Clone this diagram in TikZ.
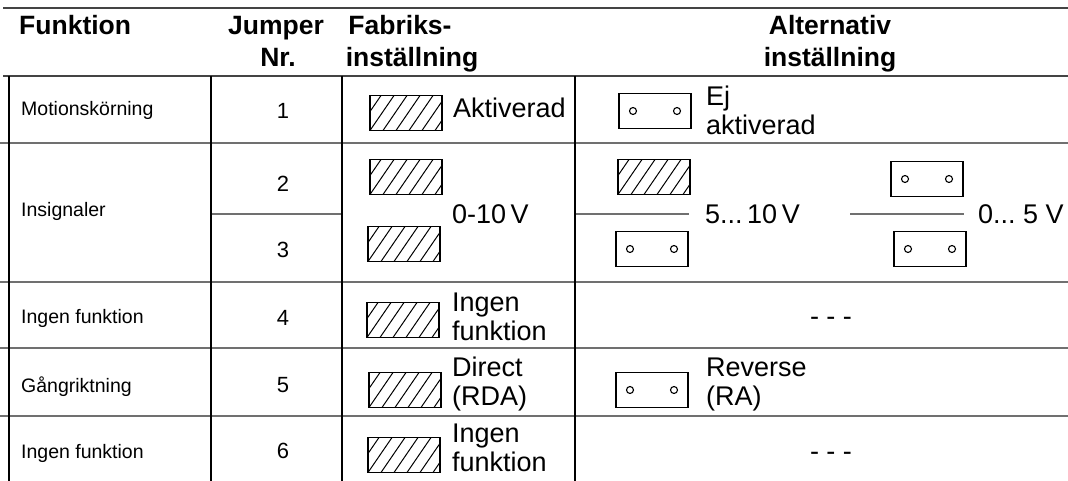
\documentclass[tikz,border=0pt]{standalone}
\usepackage{fontspec}
\setmainfont{Liberation Sans}
\definecolor{rulegray}{HTML}{707070}
\definecolor{headgray}{HTML}{444444}
\tikzset{
  colrule/.style={line width=2.6pt, black},
  rowrule/.style={line width=1.3pt, rulegray},
  headrule/.style={line width=2pt, headgray},
  head/.style={font=\fontsize{26.5}{32}\selectfont\bfseries, inner sep=0pt, anchor=base},
  func/.style={font=\fontsize{19.5}{22}\selectfont, inner sep=0pt, anchor=base west},
  num/.style={font=\fontsize{22}{24}\selectfont, inner sep=0pt, anchor=base},
  setting/.style={font=\fontsize{27}{29}\selectfont, inner sep=0pt, anchor=base west, align=left},
  jumper/.style={draw, line width=1.4pt, minimum width=72pt, minimum height=35pt, inner sep=0pt},
  closedjmp/.style={jumper, path picture={
      \foreach \k in {-1,...,5}
        \draw[line width=1pt] ([xshift=\k*13pt]path picture bounding box.south west) -- ++(24pt,35pt);}},
  openjmp/.style={jumper, path picture={
      \draw[line width=1.1pt] ([xshift=-22pt]path picture bounding box.center) circle (3.5pt)
                              ([xshift=22pt]path picture bounding box.center) circle (3.5pt);}},
}
\begin{document}
\begin{tikzpicture}[x=1pt, y=-1pt]
\useasboundingbox (0,0) rectangle (1068,481);

% header rules
\draw[headrule] (3,8) -- (1068,8);
\draw[headrule] (3,76) -- (1068,76);

% header texts
\node[head, anchor=base west] (hFunk) at (19,35) {Funktion};
\node[head] (hJump) at (276,35) {Jumper};
\node[head] (hNr) at (278,67) {Nr.};
\node[head] (hFab) at (400,35) {Fabriks-};
\node[head] (hFabI) at (412,67) {inställning};
\node[head] (hAlt) at (830,35) {Alternativ};
\node[head] (hAltI) at (830,67) {inställning};

% row rules
\foreach \y in {143,282,348,416}
  \draw[rowrule] (0,\y) -- (1068,\y);
\draw[rowrule] (211,214) -- (342,214);
\draw[rowrule] (576,214) -- (689,214);
\draw[rowrule] (850,214) -- (964,214);

% column rules
\foreach \x in {9,211,342,575}
  \draw[colrule] (\x,76) -- (\x,481);

% function column
\node[func] (f1) at (21,116) {Motionskörning};
\node[func] (f2) at (21,217) {Insignaler};
\node[func] (f4) at (21,323) {Ingen funktion};
\node[func] (f5) at (21,392) {Gångriktning};
\node[func] (f6) at (21,458) {Ingen funktion};

% jumper numbers
\node[num] (n1) at (283,119) {1};
\node[num] (n2) at (283,192) {2};
\node[num] (n3) at (283,258) {3};
\node[num] (n4) at (283,325) {4};
\node[num] (n5) at (283,392) {5};
\node[num] (n6) at (283,458) {6};

% factory settings (multi-line nodes sit on the baseline of their last line)
\node[closedjmp] (d1) at (406,113) {};
\node[setting] (t1) at (453,118) {Aktiverad};
\node[closedjmp] (d2) at (406,177) {};
\node[closedjmp] (d3) at (404,244) {};
\node[setting] (t23) at (452,223) {0-10\,V};
\node[closedjmp] (d4) at (403,320) {};
\node[setting] (t4) at (452,340) {Ingen\\funktion};
\node[closedjmp] (d5) at (405,390) {};
\node[setting] (t5) at (452,405) {Direct\\(RDA)};
\node[closedjmp] (d6) at (404,455) {};
\node[setting] (t6) at (452,471) {Ingen\\funktion};

% alternative settings
\node[openjmp] (a1) at (655,111) {};
\node[setting] (u1) at (706,135) {Ej\\aktiverad};
\node[closedjmp] (a2) at (654,177) {};
\node[openjmp] (a3) at (652,249) {};
\node[setting] (u23) at (705,223) {5...\,10\,V};
\node[openjmp] (b2) at (927,179) {};
\node[openjmp] (b3) at (930,249) {};
\node[setting] (v23) at (978,223) {0...\ 5\ V};
\node[setting, anchor=base] (u4) at (831,325) {- - -};
\node[openjmp] (a5) at (652,390) {};
\node[setting] (u5) at (706,405) {Reverse\\(RA)};
\node[setting, anchor=base] (u6) at (831,460) {- - -};
\end{tikzpicture}
\end{document}
